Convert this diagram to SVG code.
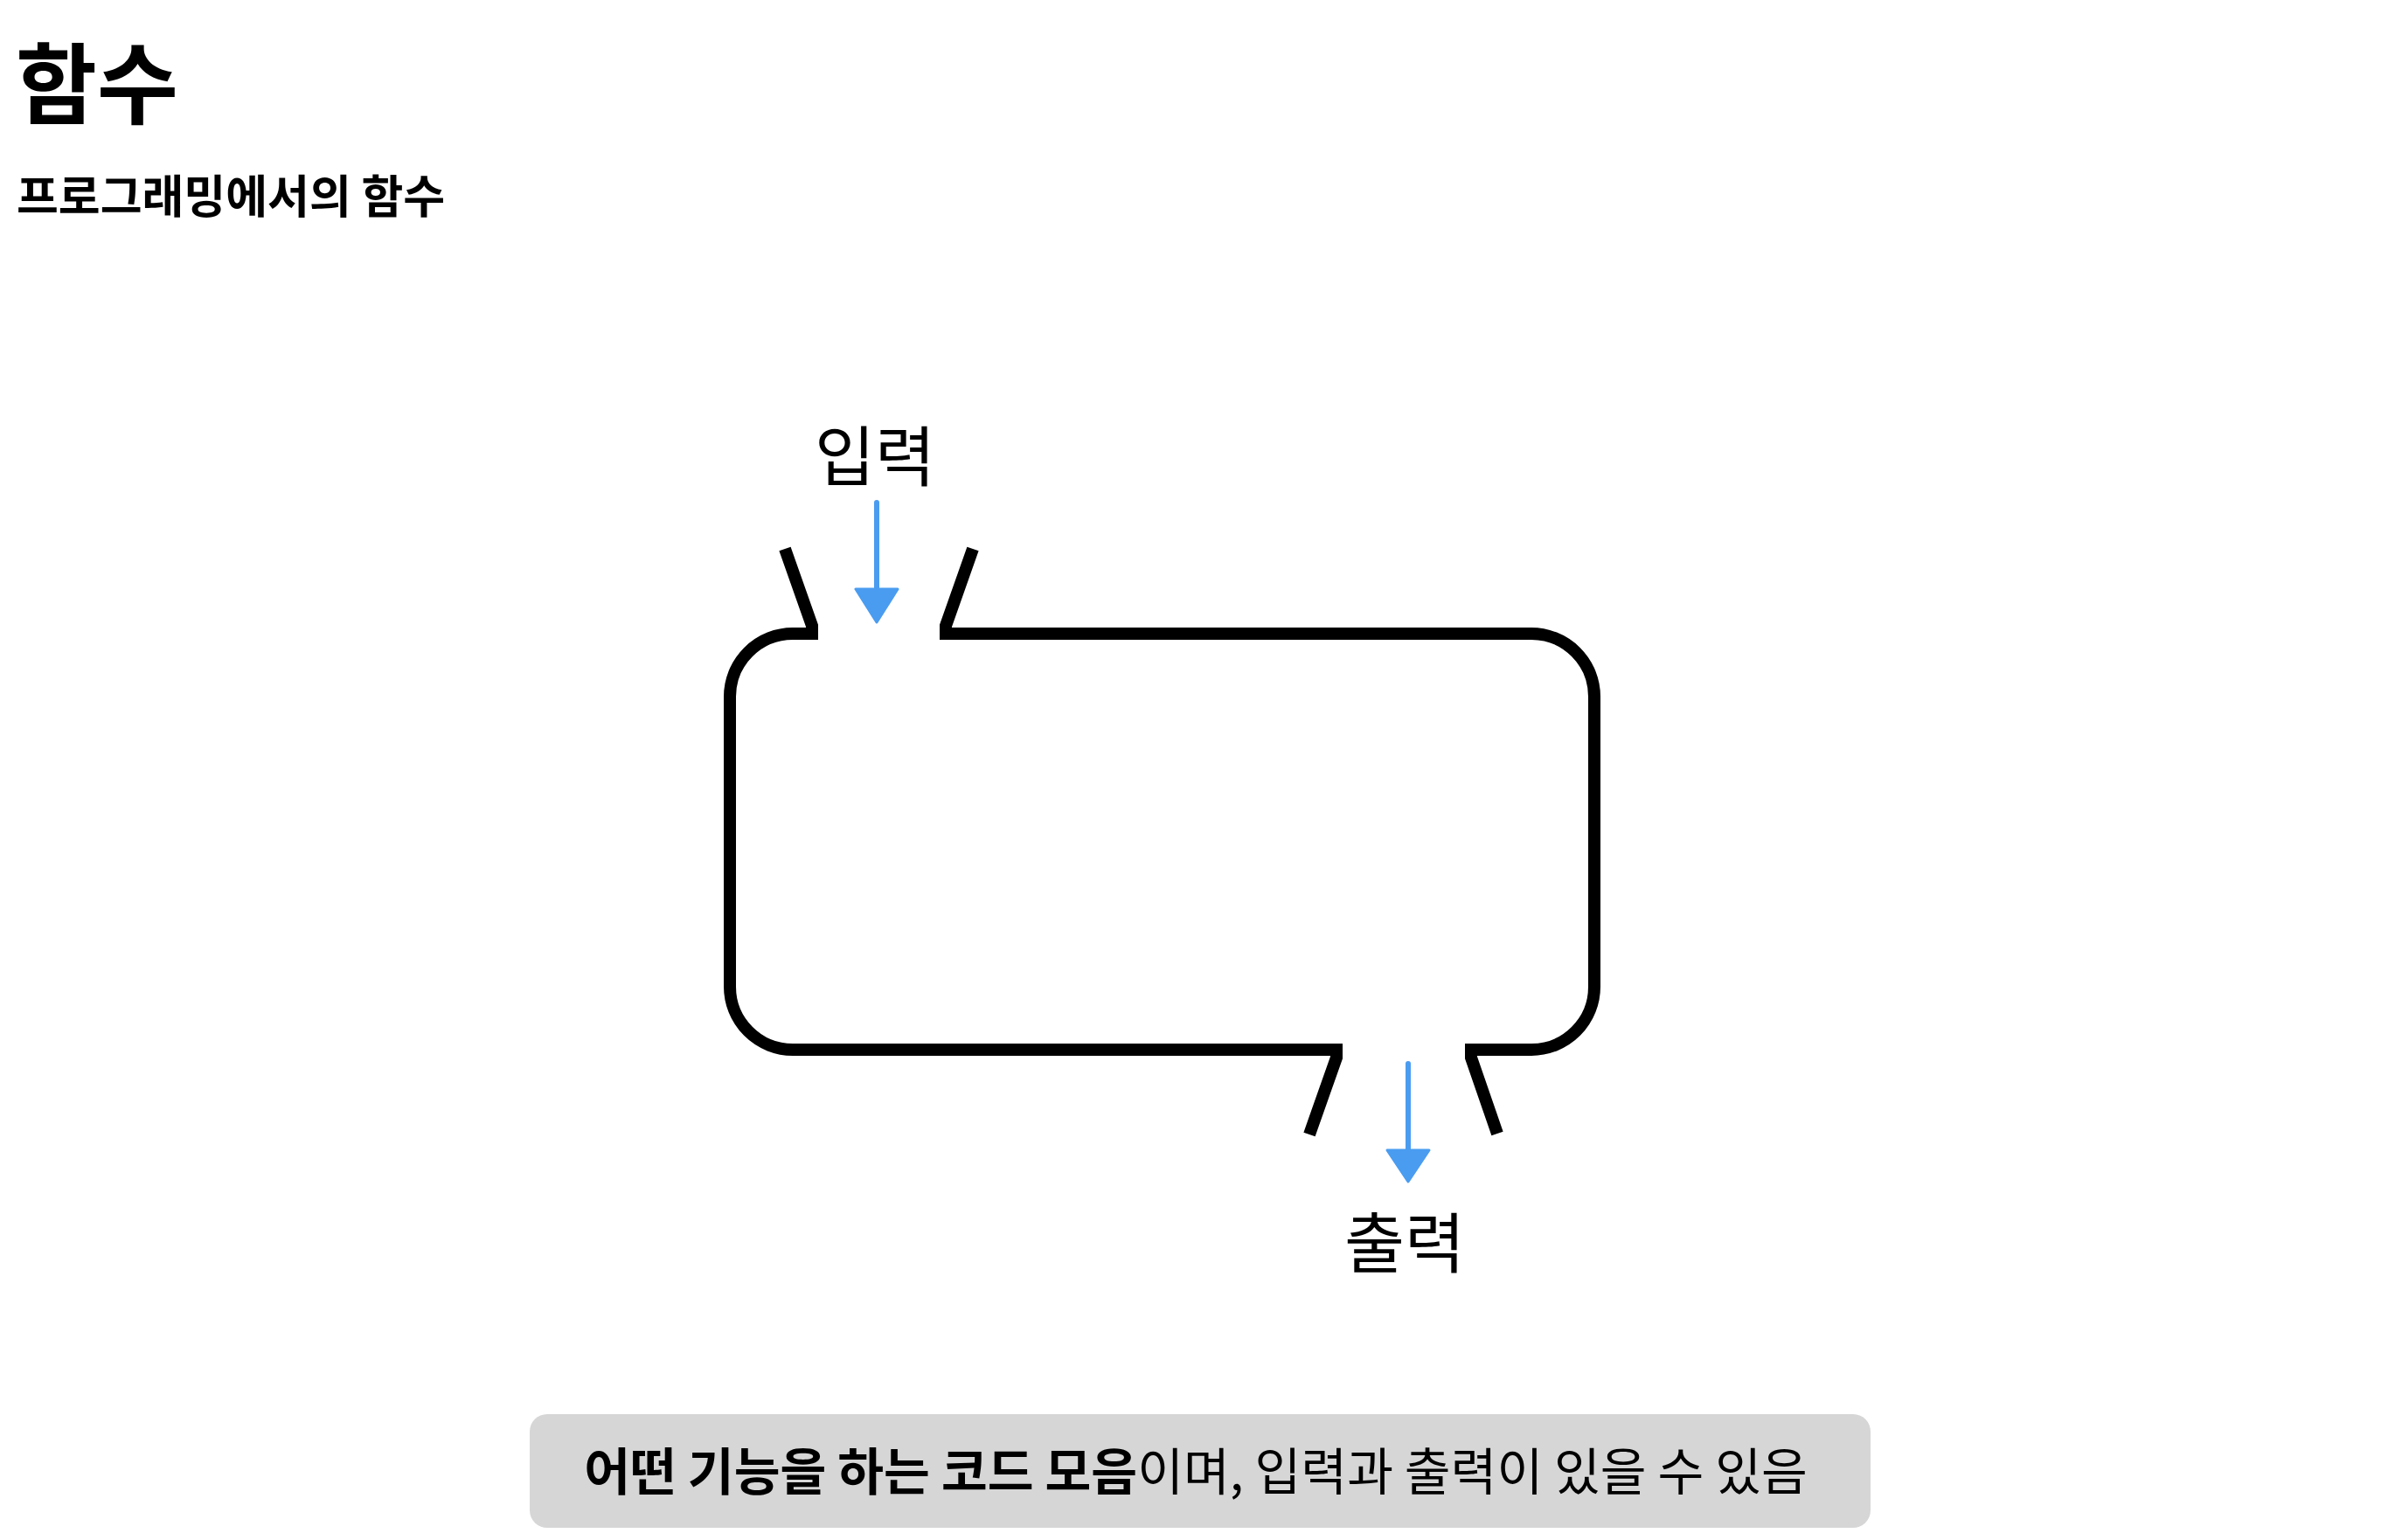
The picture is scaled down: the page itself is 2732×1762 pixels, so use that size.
<svg xmlns="http://www.w3.org/2000/svg" width="2732" height="1762" viewBox="0 0 2732 1762">
<style>
  text { font-family: "Noto Sans CJK KR", "Noto Sans", sans-serif; fill: #000; }
  .title { font-size: 101px; font-weight: 700; }
  .subtitle { font-size: 52px; font-weight: 700; }
  .label { font-size: 75px; font-weight: 400; }
  .note { font-size: 57.4px; font-weight: 400; }
  .b { font-weight: 700; }
  .outline { fill: none; stroke: #000; stroke-width: 14; stroke-linejoin: miter; stroke-linecap: butt; }
  .flow { stroke: #4a9cf0; stroke-width: 6; stroke-linecap: round; fill: none; }
  .head { fill: #4a9cf0; stroke: #4a9cf0; stroke-width: 3; stroke-linejoin: round; }
</style>
<rect width="2732" height="1762" fill="#ffffff"/>
<g id="title">
  <text class="title" x="18" y="90" dominant-baseline="central">함수</text>
</g>
<g id="subtitle">
  <text class="subtitle" x="19" y="221" dominant-baseline="central">프로그래밍에서의 함수</text>
</g>
<g id="function-box">
  <path class="outline" d="M 898 628 L 929 716 L 929 725 L 907 725 A 72 72 0 0 0 835 797 L 835 1129 A 72 72 0 0 0 907 1201 L 1529 1201 L 1529 1210 L 1498 1298"/>
  <path class="outline" d="M 1113 628 L 1082 716 L 1082 725 L 1752 725 A 72 72 0 0 1 1824 797 L 1824 1129 A 72 72 0 0 1 1752 1201 L 1683 1201 L 1683 1210 L 1713 1297"/>
</g>
<g id="input-label">
  <text class="label" x="1001" y="517" text-anchor="middle" dominant-baseline="central">입력</text>
</g>
<g id="output-label">
  <text class="label" x="1607" y="1417" text-anchor="middle" dominant-baseline="central">출력</text>
</g>
<g id="connectors">
  <line class="flow" x1="1003" y1="575" x2="1003" y2="680"/>
  <polygon class="head" points="979,674 1027,674 1003,712"/>
  <line class="flow" x1="1611" y1="1217" x2="1611" y2="1320"/>
  <polygon class="head" points="1587,1316 1635,1316 1611,1352"/>
</g>
<g id="note">
  <rect x="606" y="1618" width="1534" height="130" rx="20" ry="20" fill="#d6d6d6"/>
  <text class="note" x="1368" y="1680" text-anchor="middle" dominant-baseline="central"><tspan class="b">어떤 기능을 하는 코드 모음</tspan>이며, 입력과 출력이 있을 수 있음</text>
</g>
</svg>
